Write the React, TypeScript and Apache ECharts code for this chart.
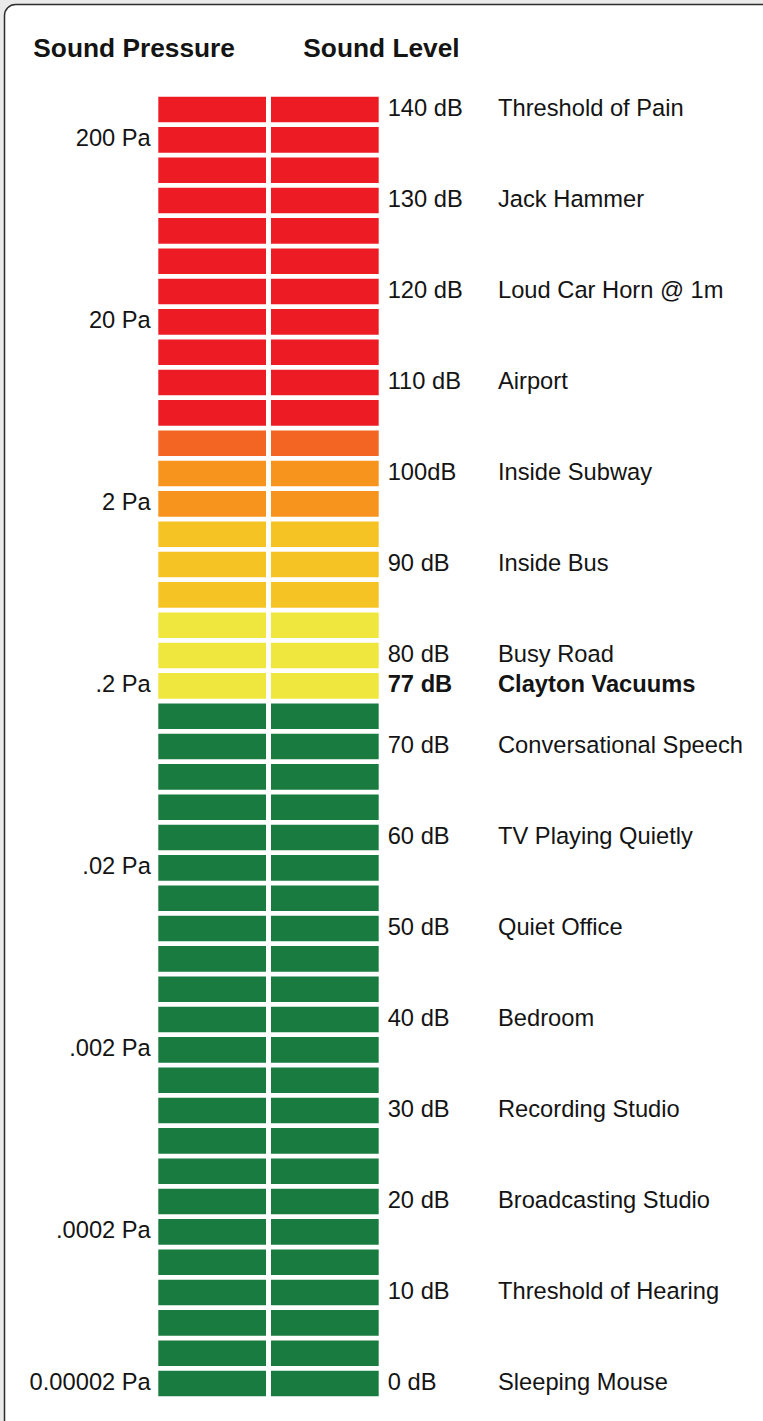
import React, { useEffect, useRef } from "react";
import * as echarts from "echarts";

const rowCount = 43;
const zoneCounts = [11, 1, 2, 3, 3, 23];
const zoneColors = ["#ED1C24", "#F26522", "#F7941D", "#F6C324", "#EFE73E", "#1A7B40"];

const levelRows = [0, 3, 6, 9, 12, 15, 18, 19, 21, 24, 27, 30, 33, 36, 39, 42];
const levelLabels = ["140 dB", "130 dB", "120 dB", "110 dB", "100dB", "90 dB", "80 dB", "77 dB", "70 dB", "60 dB", "50 dB", "40 dB", "30 dB", "20 dB", "10 dB", "0 dB"];
const sourceLabels = ["Threshold of Pain", "Jack Hammer", "Loud Car Horn @ 1m", "Airport", "Inside Subway", "Inside Bus", "Busy Road", "Clayton Vacuums", "Conversational Speech", "TV Playing Quietly", "Quiet Office", "Bedroom", "Recording Studio", "Broadcasting Studio", "Threshold of Hearing", "Sleeping Mouse"];
const highlightRow = 19;

const pressureRows = [1, 7, 13, 19, 25, 31, 37, 42];
const pressureLabels = ["200 Pa", "20 Pa", "2 Pa", ".2 Pa", ".02 Pa", ".002 Pa", ".0002 Pa", "0.00002 Pa"];

const FONT = "'Liberation Sans', Arial, Helvetica, sans-serif";
const TEXT = "#141414";
const FS = 23.7;

export default function App() {
  const ref = useRef<HTMLDivElement>(null);
  useEffect(() => {
    document.body.style.margin = "0";
    if (!ref.current) return;
    const chart = echarts.init(ref.current, null, { renderer: "svg" });

    const categories = Array.from({ length: rowCount }, (_, i) => String(i));
    const rowColors: string[] = [];
    zoneCounts.forEach((n, z) => {
      for (let k = 0; k < n; k++) rowColors.push(zoneColors[z]);
    });
    const barData = rowColors.map((c) => ({ value: 1, itemStyle: { color: c } }));

    const labelAt = (rows: number[], labels: string[], allowBold: boolean) => (_v: string, i: number) => {
      const k = rows.indexOf(i);
      if (k < 0) return "";
      return allowBold && i === highlightRow ? `{b|${labels[k]}}` : `{n|${labels[k]}}`;
    };
    const rich = {
      n: { fontSize: FS, fontFamily: FONT, color: TEXT },
      b: { fontSize: FS, fontFamily: FONT, color: TEXT, fontWeight: "bold" },
    };
    const gridTop = 94.4;
    const gridH = 1304.3;
    const baseY = {
      type: "category",
      data: categories,
      inverse: true,
      axisLine: { show: false },
      axisTick: { show: false },
      splitLine: { show: false },
    };

    chart.setOption({
      animation: false,
      backgroundColor: "#eaeaea",
      textStyle: { fontFamily: FONT },
      grid: [
        { left: 158.3, width: 107.7, top: gridTop, height: gridH },
        { left: 271, width: 107.7, top: gridTop, height: gridH },
      ],
      xAxis: [
        { type: "value", gridIndex: 0, min: 0, max: 1, show: false },
        { type: "value", gridIndex: 1, min: 0, max: 1, show: false },
      ],
      yAxis: [
        {
          ...baseY,
          gridIndex: 0,
          position: "left",
          axisLabel: { interval: 0, margin: 7.5, formatter: labelAt(pressureRows, pressureLabels, false), rich, padding: [0, 0, 4, 0] },
        },
        {
          ...baseY,
          gridIndex: 1,
          position: "right",
          axisLabel: { interval: 0, margin: 9, formatter: labelAt(levelRows, levelLabels, true), rich, padding: [0, 0, 4, 0] },
        },
        {
          ...baseY,
          gridIndex: 1,
          position: "right",
          offset: 119.3,
          axisLabel: { interval: 0, margin: 0, formatter: labelAt(levelRows, sourceLabels, true), rich, padding: [0, 0, 4, 0] },
        },
      ],
      graphic: [
        {
          type: "rect",
          z: -10,
          shape: { x: 4.5, y: 4.5, width: 820, height: 1500, r: 11 },
          style: { fill: "#ffffff", stroke: "#2e2e2e", lineWidth: 1.5 },
        },
        {
          type: "text",
          x: 33.3,
          y: 47.5,
          style: { text: "Sound Pressure", fontSize: 26.3, fontWeight: "bold", fontFamily: FONT, fill: TEXT, verticalAlign: "middle" },
        },
        {
          type: "text",
          x: 303.3,
          y: 47.5,
          style: { text: "Sound Level", fontSize: 26.3, fontWeight: "bold", fontFamily: FONT, fill: TEXT, verticalAlign: "middle" },
        },
      ],
      series: [
        { type: "bar", xAxisIndex: 0, yAxisIndex: 0, data: barData, barWidth: 25.6 },
        { type: "bar", xAxisIndex: 1, yAxisIndex: 1, data: barData, barWidth: 25.6 },
      ],
    });
    return () => chart.dispose();
  }, []);
  return <div ref={ref} style={{ width: 763, height: 1421 }} />;
}
